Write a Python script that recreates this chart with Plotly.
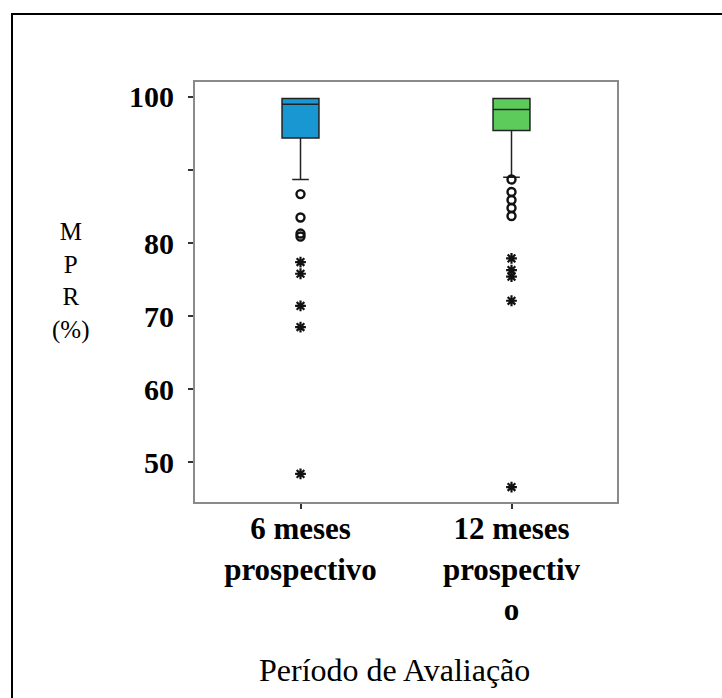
import plotly.graph_objects as go

# ---------------- data ----------------
categories = ["6 meses prospectivo", "12 meses prospectivo"]
tick_labels_x = ["6 meses<br>prospectivo", "12 meses<br>prospectiv<br>o"]
box_colors = ["#1897d2", "#5ccb5c"]

q1 = [94.4, 95.4]
median = [99.0, 98.3]
q3 = [99.8, 99.8]
lower_whisker = [88.7, 89.0]
upper_whisker = [99.8, 99.8]

# mild outliers (circles) and extreme outliers (asterisks)
circles_6 = [86.7, 83.5, 81.3, 80.9]
stars_6 = [77.4, 75.8, 71.4, 68.5, 48.4]
circles_12 = [88.7, 87.0, 85.9, 84.8, 83.7]
stars_12 = [77.9, 76.3, 75.4, 72.1, 46.6]

y_tick_vals = [50, 60, 70, 80, 90, 100]
y_tick_text = ["50", "60", "70", "80", "", "100"]
y_title = "M<br>P<br>R<br>(%)"
x_title = "Período de Avaliação"

FONT = "Liberation Serif"

fig = go.Figure()

for i, cat in enumerate(categories):
    fig.add_trace(go.Box(
        x=[cat], q1=[q1[i]], median=[median[i]], q3=[q3[i]],
        lowerfence=[lower_whisker[i]], upperfence=[upper_whisker[i]],
        width=0.175, whiskerwidth=0.45,
        fillcolor=box_colors[i],
        line=dict(color="#222222", width=1.5),
        boxpoints=False, showlegend=False, hoverinfo="skip",
    ))

circle_sets = [circles_6, circles_12]
star_sets = [stars_6, stars_12]
for i, cat in enumerate(categories):
    fig.add_trace(go.Scatter(
        x=[cat] * len(circle_sets[i]), y=circle_sets[i], mode="markers",
        marker=dict(symbol="circle-open", size=8, color="#111111",
                    line=dict(width=2.4, color="#111111")),
        showlegend=False, hoverinfo="skip",
    ))
    fig.add_trace(go.Scatter(
        x=[cat] * len(star_sets[i]), y=star_sets[i], mode="markers",
        marker=dict(symbol="asterisk-open", size=9, color="#111111",
                    line=dict(width=2.2, color="#111111")),
        showlegend=False, hoverinfo="skip",
    ))

# margins so plot area spans x 195..617, y 82..502
W, H = 722, 698
L, R, T, B = 195, 105, 82, 196
pw, ph = W - L - R, H - T - B


def px(xp):
    return (xp - L) / pw


def py(yp):
    return (H - B - yp) / ph


fig.update_layout(
    width=W, height=H,
    margin=dict(l=L, r=R, t=T, b=B),
    paper_bgcolor="white", plot_bgcolor="white",
    boxmode="overlay",
    font=dict(family=FONT, color="black"),
    xaxis=dict(
        type="category", categoryorder="array", categoryarray=categories,
        range=[-0.5, 1.5],
        tickvals=categories, ticktext=tick_labels_x,
        tickfont=dict(family=FONT, size=31, color="black", weight="bold"),
        ticks="outside", ticklen=5, tickwidth=2, tickcolor="#333333",
        ticklabelstandoff=-7,
        showline=True, linecolor="#8a8a8a", linewidth=2, mirror=True,
        showgrid=False, zeroline=False,
    ),
    yaxis=dict(
        range=[44.55, 102.05],
        tickvals=y_tick_vals, ticktext=y_tick_text,
        tickfont=dict(family=FONT, size=30, color="black", weight="bold"),
        ticks="outside", ticklen=5, tickwidth=2, tickcolor="#333333",
        ticklabelstandoff=8,
        showline=True, linecolor="#8a8a8a", linewidth=2, mirror=True,
        showgrid=False, zeroline=False,
    ),
)

# Y-axis title as stacked letters (single text block)
fig.add_annotation(text=y_title, xref="paper", yref="paper",
                   x=px(70), y=py(281), xanchor="center", yanchor="middle",
                   showarrow=False,
                   font=dict(family=FONT, size=25, color="black"))

# X-axis title
fig.add_annotation(text=x_title, xref="paper", yref="paper",
                   x=px(394), y=py(670), xanchor="center", yanchor="middle",
                   showarrow=False,
                   font=dict(family=FONT, size=32, color="black"))

# outer frame
fig.add_shape(type="rect", xref="paper", yref="paper",
              x0=px(12), x1=px(740), y0=py(720), y1=py(14),
              line=dict(color="black", width=2), fillcolor="rgba(0,0,0,0)",
              layer="below")

fig.write_html("out.html")
